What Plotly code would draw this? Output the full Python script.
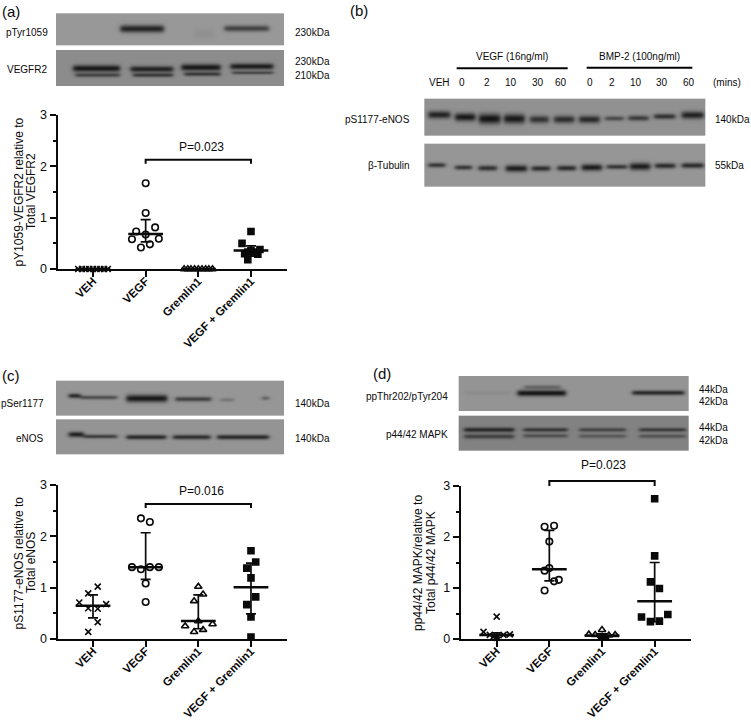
import numpy as np
import plotly.graph_objects as go

W, H = 751, 722
categories = ["VEH", "VEGF", "Gremlin1", "VEGF + Gremlin1"]

# ---- panel (a) values
a_veh_off = [-.28, -.21, -.14, -.07, 0, .07, .14, .21, .28]
a_veh_val = [0, 0, 0, 0, 0, 0, 0, 0, 0]
a_vegf_off = [0, 0, -.18, .18, 0, -.26, .25, -.09, .08]
a_vegf_val = [1.67, 1.09, .73, .81, .67, .58, .59, .42, .48]
a_grem_off = [-.27, -.2, -.14, -.07, 0, .07, .14, .2, .27]
a_grem_val = [0, 0, 0, 0, 0, 0, 0, 0, 0]
a_combo_off = [0, -.17, -.06, -.12, 0, .13, .17, -.06, .07]
a_combo_val = [.73, .5, .18, .30, .36, .29, .38, .33, .33]
a_median = [0, .68, 0, .36]
a_low = [0, .53, 0, .25]
a_high = [0, .96, 0, .45]

# ---- panel (c) values
c_veh_off = [.09, -.09, -.26, .25, -.09, .09, .09, -.09]
c_veh_val = [1.02, .89, .71, .68, .60, .59, .33, .14]
c_vegf_off = [-.09, .08, -.26, -.09, .08, .25, 0, 0]
c_vegf_val = [2.35, 2.28, 1.40, 1.36, 1.40, 1.40, 1.08, .72]
c_grem_off = [0, .09, -.08, 0, .27, -.25, .09, -.08]
c_grem_val = [1.02, .87, .74, .35, .29, .25, .18, .14]
c_combo_off = [0, .09, -.08, 0, .09, -.08, 0, 0]
c_combo_val = [1.72, 1.5, 1.38, 1.19, .82, .67, .43, .04]
c_median = [.65, 1.40, .35, 1.01]
c_low = [.41, 1.16, .20, .49]
c_high = [.86, 2.07, .86, 1.48]

# ---- panel (d) values
d_veh_off = [0, -.25, -.13, 0, .13, .25, 0, -.06]
d_veh_val = [.44, .14, .08, .05, .08, .09, .02, .05]
d_vegf_off = [-.09, .09, 0, 0, -.09, .18, .09, -.09]
d_vegf_val = [2.2, 2.22, 1.91, 1.39, 1.34, 1.16, 1.13, .95]
d_grem_off = [0, -.25, .25, -.13, .13, 0, 0, .06]
d_grem_val = [.18, .09, .08, .08, .07, .05, .01, .04]
d_combo_off = [0, 0, -.08, .09, .25, -.25, .09, -.08]
d_combo_val = [2.75, 1.63, 1.12, .99, .48, .43, .35, .34]
d_median = [.08, 1.37, .07, .74]
d_low = [.03, 1.14, .03, .34]
d_high = [.12, 2.13, .10, 1.50]

a_bracket_y = [2.05, 2.13, 2.13, 2.05]
c_bracket_y = [2.55, 2.63, 2.63, 2.55]
d_bracket_y = [3.0, 3.10, 3.10, 3.0]

INK = "#0a0a0a"
SANS = "Liberation Sans, Arial, sans-serif"
fig = go.Figure()

panels = [
    ("x", "y", "y", 57.5, 287, 115, 269, -0.674, 3.684,
     [(a_veh_off, a_veh_val), (a_vegf_off, a_vegf_val), (a_grem_off, a_grem_val), (a_combo_off, a_combo_val)],
     a_median, a_low, a_high, a_bracket_y),
    ("x2", "y2", "y2", 57.5, 287, 485, 639, -0.674, 3.684,
     [(c_veh_off, c_veh_val), (c_vegf_off, c_vegf_val), (c_grem_off, c_grem_val), (c_combo_off, c_combo_val)],
     c_median, c_low, c_high, c_bracket_y),
    ("x3", "y3", "y5", 460.7, 691, 486, 639, -0.683, 3.69,
     [(d_veh_off, d_veh_val), (d_vegf_off, d_vegf_val), (d_grem_off, d_grem_val), (d_combo_off, d_combo_val)],
     d_median, d_low, d_high, d_bracket_y),
]
symbols = [("x-thin-open", 6, 0), ("circle-open", 6.5, 0), ("triangle-up-open", 6.5, 0), ("square", 6, 1)]

layout_axes = {}
for xa, ya, ya_brk, x0, x1, ytop, ybot, r0, r1, groups, med, lo, hi, brk in panels:
    for i, (off, val) in enumerate(groups):
        sym, size, filled = symbols[i]
        fig.add_trace(go.Scatter(
            x=[i + o for o in off], y=val, mode="markers", xaxis=xa, yaxis=ya, cliponaxis=False,
            marker=dict(symbol=sym, size=size, color=INK, line=dict(color=INK, width=1.6)),
            hoverinfo="skip", showlegend=False))
    fig.add_trace(go.Scatter(
        x=[0, 1, 2, 3], y=med, mode="markers", xaxis=xa, yaxis=ya, cliponaxis=False,
        marker=dict(size=1, color=INK, opacity=0),
        error_x=dict(type="constant", value=.33, width=0, thickness=2.5, color=INK),
        error_y=dict(type="data", symmetric=False,
                     array=[h - m for h, m in zip(hi, med)],
                     arrayminus=[m - l for m, l in zip(med, lo)],
                     width=5, thickness=1.7, color=INK),
        hoverinfo="skip", showlegend=False))
    fig.add_trace(go.Scatter(
        x=[1, 1, 3, 3], y=brk, mode="lines", xaxis=xa, yaxis=ya_brk, cliponaxis=False,
        line=dict(color=INK, width=2), hoverinfo="skip", showlegend=False))
    xname = "xaxis" + xa[1:]
    yname = "yaxis" + ya[1:]
    layout_axes[xname] = dict(
        domain=[x0 / W, x1 / W], range=[r0, r1], anchor=ya, showgrid=False, zeroline=False, automargin=False,
        showline=True, linecolor=INK, linewidth=2, ticks="outside", ticklen=6, tickwidth=2, tickcolor=INK,
        tickvals=[0, 1, 2, 3], ticktext=categories, tickangle=-45, ticklabelstandoff=-7,
        tickfont=dict(family=SANS, size=11.5, color=INK, weight="bold"))
    layout_axes[yname] = dict(
        domain=[1 - ybot / H, 1 - ytop / H], range=[0, 3], anchor=xa, showgrid=False, zeroline=False, automargin=False,
        showline=True, linecolor=INK, linewidth=2, ticks="outside", ticklen=6, tickwidth=2, tickcolor=INK,
        tickvals=[0, 1, 2, 3], tickfont=dict(family=SANS, size=12.5, color=INK),
        minor=dict(tickvals=[.5, 1.5, 2.5], ticks="outside", ticklen=3, tickwidth=2, tickcolor=INK))

# hidden axis with the same scale as panel (d), taller so the bracket above the axis top can be drawn
layout_axes["yaxis5"] = dict(domain=[1 - 639 / H, 1 - 459 / H], range=[0, 3 * 180 / 153], anchor="x3",
                             visible=False, automargin=False, fixedrange=True)

# ---- western blots: (origin x, origin y, x0, x1, y0, y1, background, bands); band = x0, x1, y, half-thickness, darkness
blots = [
    # (a)
    (0, 0, 168, 851, 40, 134, 152, [(360, 490, 86, 10, 115), (672, 805, 85, 8, 85), (580, 640, 100, 14, 8)]),
    (0, 0, 168, 851, 150, 257, 140, [
        (218, 358, 204, 9, 115), (390, 518, 206, 8, 105), (543, 660, 201, 9, 115), (690, 818, 198, 8, 110),
        (225, 358, 224, 5, 70), (398, 518, 224, 5, 80), (552, 660, 221, 5, 80), (695, 818, 217, 4, 65)]),
    # (b)
    (340, 0, 253, 1095, 296, 407, 145, [
        (265, 330, 342, 10, 110), (345, 405, 349, 11, 120), (417, 480, 354, 14, 125), (492, 553, 354, 13, 120),
        (570, 625, 356, 10, 95), (642, 702, 356, 10, 100), (717, 778, 356, 10, 105), (795, 850, 353, 6, 70),
        (865, 925, 352, 7, 85), (942, 1005, 347, 7, 95), (1025, 1090, 343, 10, 110)]),
    (340, 0, 253, 1095, 431, 559, 150, [
        (265, 315, 493, 6, 95), (345, 395, 500, 6, 95), (415, 470, 502, 7, 100), (497, 560, 503, 9, 120),
        (575, 630, 503, 7, 105), (652, 707, 502, 7, 105), (725, 785, 500, 9, 120), (800, 860, 498, 6, 95),
        (870, 930, 497, 10, 120), (945, 1005, 495, 7, 105), (1025, 1090, 494, 7, 105)]),
    # (c)
    (0, 360, 168, 852, 62, 165, 150, [
        (205, 240, 105, 6, 110), (240, 350, 110, 5, 70), (378, 500, 113, 10, 125), (525, 632, 115, 6, 85),
        (660, 700, 117, 5, 30), (785, 805, 112, 5, 55)]),
    (0, 360, 168, 852, 178, 283, 148, [
        (205, 250, 223, 7, 115), (250, 350, 229, 5, 85), (378, 497, 231, 6, 105), (518, 630, 231, 6, 100),
        (650, 805, 231, 6, 105)]),
    # (d)
    (370, 360, 266, 955, 48, 152, 148, [
        (440, 585, 98, 8, 125), (460, 570, 80, 5, 45), (785, 940, 97, 6, 105), (280, 420, 98, 5, 8)]),
    (370, 360, 266, 955, 167, 272, 130, [
        (280, 430, 207, 6, 90), (458, 590, 207, 5, 75), (625, 765, 207, 5, 60), (805, 945, 207, 5, 70),
        (280, 430, 227, 6, 65), (458, 590, 225, 5, 50), (625, 765, 226, 5, 40), (805, 945, 226, 5, 45)]),
]
for ox, oy, bx0, bx1, by0, by1, bg, bands in blots:
    left, right = ox + bx0 / 3, ox + bx1 / 3
    top, bottom = oy + by0 / 3, oy + by1 / 3
    xs = np.arange(left, right, 1.0)
    ys = np.arange(top, bottom, 1.0)
    X, Y = np.meshgrid(xs, ys)
    Z = np.full(X.shape, float(bg))
    for b0, b1, yc, half, dark in bands:
        ex = .5 * (np.tanh((X - (ox + b0 / 3)) / 2.5) - np.tanh((X - (ox + b1 / 3)) / 2.5))
        ey = np.exp(-((Y - (oy + yc / 3)) / (half / 3 + .4)) ** 2)
        Z -= dark * ex * ey
    fig.add_trace(go.Heatmap(z=Z, x=xs + .5, y=ys + .5, xaxis="x4", yaxis="y4", zmin=0, zmax=255,
                             colorscale=[[0, "#000000"], [1, "#ffffff"]], showscale=False, hoverinfo="skip"))

layout_axes["xaxis4"] = dict(domain=[0, 1], range=[0, W], visible=False, anchor="y4", fixedrange=True, automargin=False)
layout_axes["yaxis4"] = dict(domain=[0, 1], range=[H, 0], visible=False, anchor="x4", fixedrange=True, automargin=False)

# ---- brackets over panel (b)
for xz0, xz1, yz in [(350, 683, 205), (740, 1057, 203)]:
    fig.add_shape(type="line", xref="x4", yref="y4", x0=340 + xz0 / 3, x1=340 + xz1 / 3,
                  y0=yz / 3, y1=yz / 3, line=dict(color="#000000", width=2))

# ---- text: (x, y, text, size, xanchor, rotation)
texts = [
    (11, 11, "(a)", 15, "center", 0), (359, 10, "(b)", 15, "center", 0),
    (11, 375, "(c)", 15, "center", 0), (382, 373, "(d)", 15, "center", 0),
    (50, 32, "pTyr1059", 10, "right", 0), (48.5, 69, "VEGFR2", 10, "right", 0),
    (293, 32, "230kDa", 10, "left", 0), (293, 61, "230kDa", 10, "left", 0), (293, 75, "210kDa", 10, "left", 0),
    (201, 147, "P=0.023", 12, "center", 0),
    (18.5, 192, "pY1059-VEGFR2 relative to", 12, "center", -90), (31, 192, "Total VEGFR2", 12, "center", -90),
    (512, 56, "VEGF (16ng/ml)", 10, "center", 0), (639, 56, "BMP-2 (100ng/ml)", 10, "center", 0),
    (439, 82, "VEH", 10, "center", 0), (462, 82, "0", 10, "center", 0), (487, 82, "2", 10, "center", 0),
    (511, 82, "10", 10, "center", 0), (538, 82, "30", 10, "center", 0), (561, 82, "60", 10, "center", 0),
    (590, 82, "0", 10, "center", 0), (612, 82, "2", 10, "center", 0), (636, 82, "10", 10, "center", 0),
    (662, 82, "30", 10, "center", 0), (689, 82, "60", 10, "center", 0), (727, 82, "(mins)", 10, "center", 0),
    (412, 119, "pS1177-eNOS", 10, "right", 0), (412, 165, "\u03b2-Tubulin", 10, "right", 0),
    (713, 119, "140kDa", 10, "left", 0), (713, 165, "55kDa", 10, "left", 0),
    (46, 403, "pSer1177", 10, "right", 0), (46, 438, "eNOS", 10, "right", 0),
    (293, 403, "140kDa", 10, "left", 0), (293, 438, "140kDa", 10, "left", 0),
    (201, 491, "P=0.016", 12, "center", 0),
    (18.5, 563, "pS1177-eNOS relative to", 12, "center", -90), (31, 563, "Total eNOS", 12, "center", -90),
    (450, 396, "ppThr202/pTyr204", 10, "right", 0), (450, 434, "p44/42 MAPK", 10, "right", 0),
    (697, 389, "44kDa", 10, "left", 0), (697, 401, "42kDa", 10, "left", 0),
    (697, 427, "44kDa", 10, "left", 0), (697, 440, "42kDa", 10, "left", 0),
    (603, 465, "P=0.023", 12, "center", 0),
    (418, 563, "pp44/42 MAPK/relative to", 12, "center", -90), (431, 563, "Total p44/42 MAPK", 12, "center", -90),
]
for tx, ty, s, size, anchor, rot in texts:
    fig.add_annotation(x=tx, y=ty, xref="x4", yref="y4", text=s, showarrow=False, xanchor=anchor, yanchor="middle",
                       textangle=rot, font=dict(family=SANS, size=size, color=INK))

fig.update_layout(width=W, height=H, margin=dict(l=0, r=0, t=0, b=0), paper_bgcolor="white", plot_bgcolor="rgba(0,0,0,0)",
                  showlegend=False, **layout_axes)
fig.write_html("out.html", post_script="document.body.style.margin='0';document.body.style.overflow='hidden';",
               config={"displayModeBar": False})
